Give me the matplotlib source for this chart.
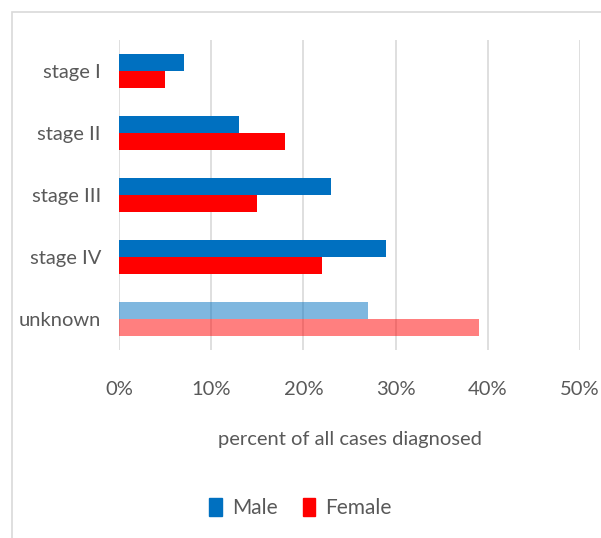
import matplotlib
matplotlib.use('Agg')
import matplotlib.pyplot as plt
from matplotlib.patches import Rectangle, Patch
import numpy as np

plt.rcParams['font.family'] = ['Lato', 'DejaVu Sans']

stages = ['stage I', 'stage II', 'stage III', 'stage IV', 'unknown']
male   = [7, 13, 23, 29, 27]
female = [5, 18, 15, 22, 39]
ticks  = [0, 10, 20, 30, 40, 50]

blue, red, grey = '#0070C0', '#FF0000', '#595959'

fig = plt.figure(figsize=(6.01, 5.38), dpi=100)
ax = fig.add_axes([119/601, 1-350/538, (580-119)/601, 310/538])

y = np.arange(len(stages))
h = 0.27
m_alpha = [1, 1, 1, 1, 0.5]
for i in y:
    ax.barh(i - h/2, male[i], h, color=blue, alpha=m_alpha[i], zorder=3)
    ax.barh(i + h/2, female[i], h, color=red, alpha=m_alpha[i], zorder=3)

ax.set_xlim(0, 50)
ax.set_ylim(len(stages) - 0.5, -0.5)
ax.set_yticks(y)
ax.set_yticklabels(stages)
ax.set_xticks(ticks)
ax.set_xticklabels([f'{t}%' for t in ticks])
ax.tick_params(length=0, labelsize=14.5, labelcolor=grey)
ax.tick_params(axis='x', pad=22)
ax.tick_params(axis='y', pad=13)
ax.grid(axis='x', color='#D9D9D9', lw=1.2, zorder=0)
for s in ax.spines.values():
    s.set_visible(False)
ax.set_xlabel('percent of all cases diagnosed', fontsize=14.5, color=grey, labelpad=24)

fig.legend(handles=[Patch(color=blue, label='Male'), Patch(color=red, label='Female')],
           loc='center', bbox_to_anchor=(0.5, 1-508/538), ncol=2, frameon=False,
           fontsize=15, labelcolor=grey, handlelength=0.6, handleheight=1.0,
           handletextpad=0.5, columnspacing=1.2)

fig.patches.append(Rectangle((12/601, -0.1), 1.2, 1-12/538+0.1, transform=fig.transFigure,
                             fill=False, ec='#D9D9D9', lw=1.2))

fig.savefig('out.png', dpi=100)
